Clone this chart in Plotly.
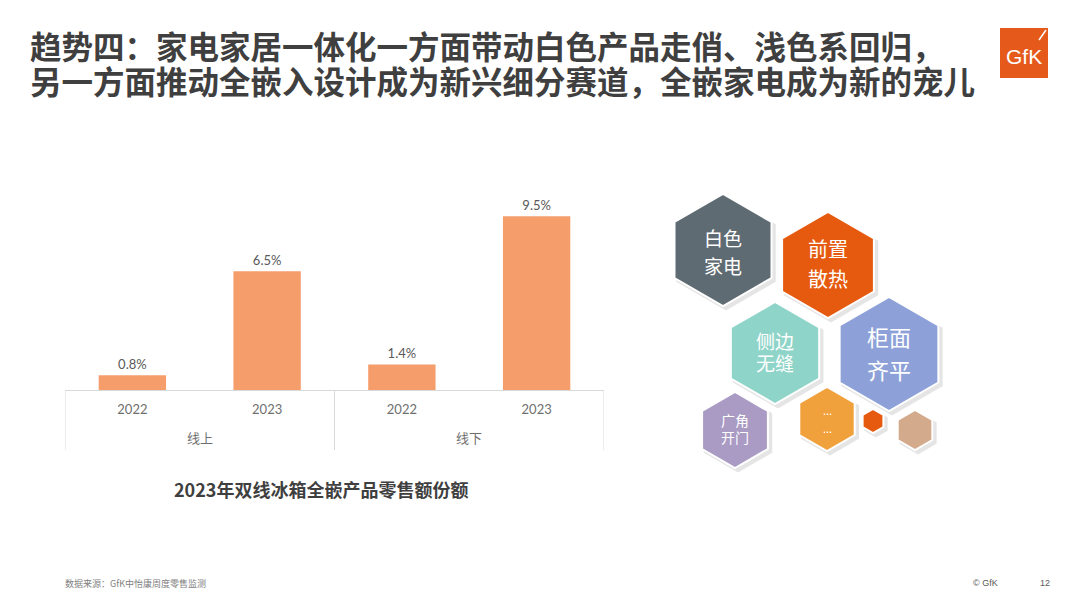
import plotly.graph_objects as go

W, H = 1080, 607

# ---- bar chart data ----
channels = ["线上", "线上", "线下", "线下"]
years = ["2022", "2023", "2022", "2023"]
shares = [0.8, 6.5, 1.4, 9.5]
share_labels = ["0.8%", "6.5%", "1.4%", "9.5%"]

# ---- hexagon infographic data ----
hex_labels = ["白色<br>家电", "前置<br>散热", "侧边<br>无缝", "柜面<br>齐平", "广角<br>开门", "...<br>...", "", ""]
hex_cx = [723, 828, 775, 889, 735, 827, 873, 915]
hex_cy = [250, 265, 353, 354, 430, 419, 421, 430]
hex_r = [56, 53, 51, 57, 38, 32, 12, 20]
hex_colors = ["#5F6B73", "#E65A10", "#8FD4C8", "#8DA1D8", "#A99BC4", "#F0A13C", "#E65A10", "#D4AA8C"]
hex_font = [19, 20, 19, 22, 14, 11, 10, 10]
hex_line_gap = [28, 30, 22, 33, 17, 18, 0, 0]
hex_text_cy = [251, 263, 351, 352, 428, 419, 421, 430]

title_line1 = "趋势四：家电家居一体化一方面带动白色产品走俏、浅色系回归，"
title_line2 = "另一方面推动全嵌入设计成为新兴细分赛道，全嵌家电成为新的宠儿"
chart_caption = "2023年双线冰箱全嵌产品零售额份额"
source_text = "数据来源：GfK中怡康周度零售监测"

CJK = "Noto Sans CJK SC"
LINE = "#D9D9D9"

idx = list(range(len(years)))

fig = go.Figure()

fig.add_trace(go.Bar(
    x=idx,
    y=shares,
    text=share_labels,
    textposition="outside",
    textfont=dict(family="Lato, " + CJK, size=13, color="#595959"),
    marker=dict(color="#F59E6C", line=dict(width=0)),
    width=0.5,
    cliponaxis=False,
    xaxis="x", yaxis="y",
    showlegend=False,
    hoverinfo="skip",
))

# shadows
fig.add_trace(go.Scatter(
    x=[c + 3 for c in hex_cx], y=[c + 3 for c in hex_cy],
    mode="markers",
    marker=dict(symbol="hexagon", size=[2 * r + 3 for r in hex_r], opacity=1,
                color="rgba(0,0,0,0.10)", line=dict(width=0)),
    xaxis="x2", yaxis="y2", showlegend=False, hoverinfo="skip",
))
fig.add_trace(go.Scatter(
    x=hex_cx, y=hex_cy,
    mode="markers",
    marker=dict(symbol="hexagon", size=[2 * r for r in hex_r], opacity=1,
                color=hex_colors, line=dict(color="white", width=2)),
    xaxis="x2", yaxis="y2", showlegend=False, hoverinfo="skip",
))

base_px, top_px = 390, 198
y_base = (H - base_px) / H
fig.update_layout(
    width=W, height=H,
    margin=dict(l=0, r=0, t=0, b=0),
    paper_bgcolor="white", plot_bgcolor="rgba(0,0,0,0)",
    font=dict(family=CJK, color="#595959"),
    xaxis=dict(
        domain=[65 / W, 604 / W],
        anchor="y",
        range=[-0.5, len(years) - 0.5],
        tickvals=idx, ticktext=years,
        showline=True, linecolor=LINE, linewidth=1,
        ticks="", showgrid=False, zeroline=False,
        ticklabelstandoff=7,
        tickfont=dict(family="Lato, " + CJK, size=13, color="#6F6F6F"),
        automargin=False, fixedrange=True,
    ),
    yaxis=dict(
        domain=[y_base, (H - top_px) / H],
        range=[0, 10.5],
        visible=False, showgrid=False, zeroline=False,
        automargin=False, fixedrange=True,
    ),
    xaxis2=dict(domain=[0, 1], range=[0, W], visible=False, anchor="y2", fixedrange=True),
    yaxis2=dict(domain=[0, 1], range=[H, 0], visible=False, anchor="x2", fixedrange=True),
)

# category group dividers and labels
groups = []
for i, ch in enumerate(channels):
    if not groups or groups[-1][0] != ch:
        groups.append([ch, i, i])
    else:
        groups[-1][2] = i
edges = [g[1] - 0.5 for g in groups] + [groups[-1][2] + 0.5]
for e in edges:
    fig.add_shape(type="line", xref="x", yref="paper", x0=e, x1=e,
                  y0=y_base, y1=1 - 450 / H, line=dict(color=LINE, width=1))
for ch, a, b in groups:
    fig.add_annotation(xref="x", yref="paper", x=(a + b) / 2, y=1 - 437 / H,
                       text=ch, showarrow=False, xanchor="center", yanchor="middle",
                       font=dict(family=CJK, size=13, color="#6F6F6F"))

# hexagon texts (one annotation per line, spaced like the reference)
for lab, cx, cy, fs, gap in zip(hex_labels, hex_cx, hex_text_cy, hex_font, hex_line_gap):
    if not lab:
        continue
    lines = lab.split("<br>")
    n = len(lines)
    for k, ln in enumerate(lines):
        fig.add_annotation(xref="x2", yref="y2", x=cx, y=cy + (k - (n - 1) / 2) * gap,
                           text=ln, showarrow=False, xanchor="center", yanchor="middle",
                           font=dict(family=CJK, size=fs, color="white"))

# GfK logo
fig.add_shape(type="rect", xref="paper", yref="paper",
              x0=1000 / W, x1=1048 / W, y0=1 - 78 / H, y1=1 - 28 / H,
              fillcolor="#E55A1B", line=dict(width=0), layer="below")
fig.add_shape(type="line", xref="paper", yref="paper",
              x0=1039 / W, x1=1046 / W, y0=1 - 40 / H, y1=1 - 30 / H,
              line=dict(color="white", width=1.5))

anns = [
    dict(text=title_line1, x=28 / W, y=1 - 45 / H, xanchor="left", yanchor="middle",
         font=dict(family=CJK, size=31.5, color="#3F3F3F", weight="bold")),
    dict(text=title_line2, x=28 / W, y=1 - 80 / H, xanchor="left", yanchor="middle",
         font=dict(family=CJK, size=31.5, color="#3F3F3F", weight="bold")),
    dict(text="GfK", x=1024 / W, y=1 - 57 / H, xanchor="center", yanchor="middle",
         font=dict(family="Liberation Sans", size=21, color="white")),
    dict(text=chart_caption, x=321 / W, y=1 - 489 / H, xanchor="center", yanchor="middle",
         font=dict(family=CJK, size=18, color="#3F3F3F", weight="bold")),
    dict(text=source_text, x=63 / W, y=1 - 583 / H, xanchor="left", yanchor="middle",
         font=dict(family=CJK, size=9, color="#7F7F7F")),
    dict(text="© GfK", x=985 / W, y=1 - 583 / H, xanchor="center", yanchor="middle",
         font=dict(family="Liberation Sans", size=9, color="#595959")),
    dict(text="12", x=1045 / W, y=1 - 583 / H, xanchor="center", yanchor="middle",
         font=dict(family="Liberation Sans", size=9, color="#595959")),
]
for a in anns:
    fig.add_annotation(xref="paper", yref="paper", showarrow=False, **a)

fig.write_html("out.html", config={"displayModeBar": False},
               post_script="document.body.style.margin='0px';")
